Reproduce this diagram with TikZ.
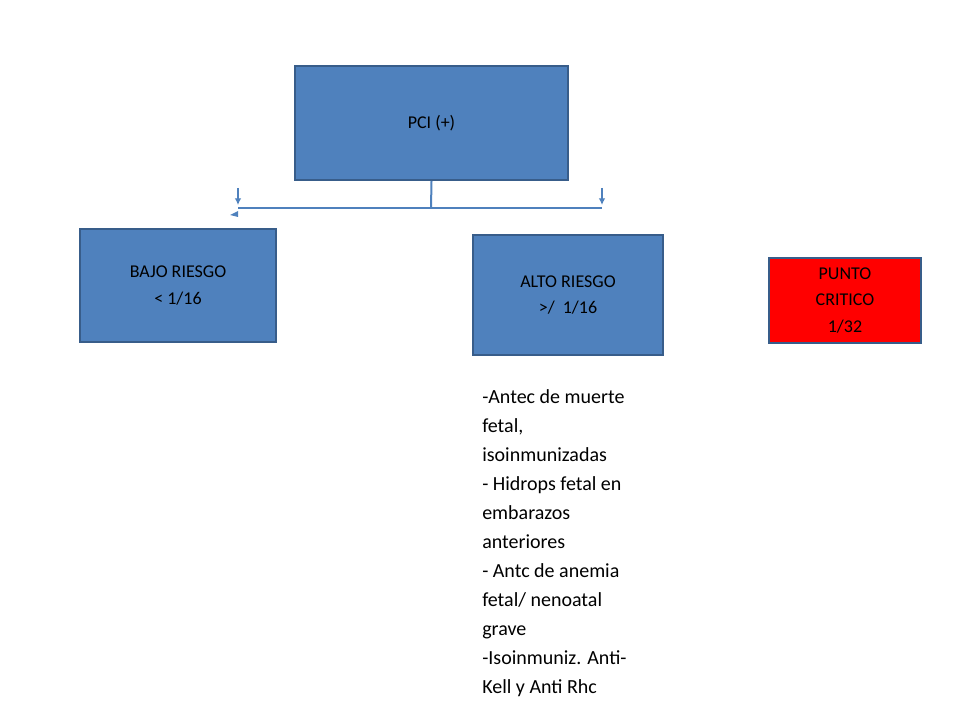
\documentclass[tikz,border=0pt]{standalone}
\usepackage{fontspec}
\setmainfont{Carlito}
\usetikzlibrary{arrows.meta}
\definecolor{boxblue}{HTML}{4F81BD}
\definecolor{boxedge}{HTML}{385D8A}
\begin{document}
\begin{tikzpicture}[x=0.75pt,y=-0.75pt,
  bx/.style={draw=boxedge,line width=1.5pt,fill=boxblue,align=center,font=\fontsize{13.5}{20}\selectfont,inner sep=0pt},
  ln/.style={draw=boxblue,line width=1.5pt}]
\useasboundingbox (0,0) rectangle (960,720);
\node[bx,minimum width=273*0.75pt,minimum height=114*0.75pt] (pci) at (431.5,123) {PCI (+)};
\node[bx,minimum width=196*0.75pt,minimum height=113*0.75pt] (bajo) at (178,285.5) {BAJO RIESGO\\ < 1/16};
\node[bx,minimum width=190*0.75pt,minimum height=120*0.75pt] (alto) at (568,295) {ALTO RIESGO\\ >/\ \ 1/16};
\node[draw=boxedge,line width=1.5pt,fill=red,align=center,font=\fontsize{13.5}{20}\selectfont,inner sep=0pt,minimum width=152*0.75pt,minimum height=85*0.75pt] (punto) at (845,300.5) {PUNTO\\ CRITICO\\ 1/32};
\coordinate (j) at (431,208);
\coordinate (l) at (238,208);
\coordinate (r) at (602,208);
\draw[ln] (pci.south) -- (j);
\draw[ln] (l) -- (r);
\draw[ln,-{Latex[length=5pt,width=5pt]}] (238,188) -- (238,205);
\draw[ln,-{Latex[length=5pt,width=5pt]}] (602,188) -- (602,205);
\fill[boxblue] (230,215) -- (238,211) -- (238,217) -- cycle;
\node[anchor=north west,align=left,font=\fontsize{15}{21.75}\selectfont,inner sep=0pt] (list) at (482,389) {-Antec de muerte\\fetal,\\isoinmunizadas\\- Hidrops fetal en\\embarazos\\anteriores\\- Antc de anemia\\fetal/ nenoatal\\grave\\-Isoinmuniz. Anti-\\Kell y Anti Rhc};
\end{tikzpicture}
\end{document}
